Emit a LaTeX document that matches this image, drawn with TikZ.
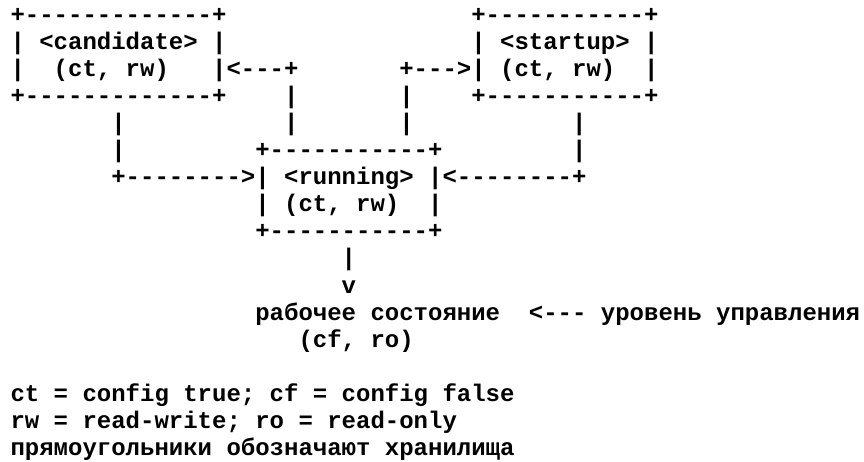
\documentclass[tikz,border=0pt]{standalone}
\usepackage{fontspec}
\setmonofont{Liberation Mono}
\usetikzlibrary{positioning}
\frenchspacing
\tikzset{
  ascii/.style={anchor=base west, inner sep=0pt, outer sep=0pt,
                font=\ttfamily\bfseries\fontsize{18pt}{20pt}\selectfont},
}

\begin{document}
\begin{tikzpicture}
  \fill[white] (0pt,0pt) rectangle (648pt,-345.75pt);
  \useasboundingbox (0pt,0pt) rectangle (648pt,-345.75pt);
  \begin{scope}[shift={(7.9pt,-16.5pt)}, x=10.8pt, y=-20.33pt]
    % <candidate>
    \node[ascii] (cand1) at (0,0) {+-------------+};
    \node[ascii] (cand2) at (0,1) {| <candidate> |};
    \node[ascii] (cand3) at (0,2) {|~~(ct,~rw)~~~|};
    \node[ascii] (cand4) at (0,3) {+-------------+};
    % <startup>
    \node[ascii] (start1) at (32,0) {+-----------+};
    \node[ascii] (start2) at (32,1) {| <startup> |};
    \node[ascii] (start3) at (32,2) {|~(ct,~rw)~~|};
    \node[ascii] (start4) at (32,3) {+-----------+};
    % <running>
    \node[ascii] (run1) at (17,5) {+-----------+};
    \node[ascii] (run2) at (17,6) {| <running> |};
    \node[ascii] (run3) at (17,7) {|~(ct,~rw)~~|};
    \node[ascii] (run4) at (17,8) {+-----------+};
    % running -> candidate / startup
    \node[ascii] (tocand) at (15,2) {<---+};
    \node[ascii] (tostart) at (27,2) {+--->};
    \node[ascii] (upa1) at (19,3) {|};
    \node[ascii] (upa2) at (19,4) {|};
    \node[ascii] (upb1) at (27,3) {|};
    \node[ascii] (upb2) at (27,4) {|};
    % candidate / startup -> running
    \node[ascii] (dna1) at (7,4) {|};
    \node[ascii] (dna2) at (7,5) {|};
    \node[ascii] (fromcand) at (7,6) {+-------->};
    \node[ascii] (dnb1) at (39,4) {|};
    \node[ascii] (dnb2) at (39,5) {|};
    \node[ascii] (fromstart) at (30,6) {<--------+};
    % running -> operational state
    \node[ascii] (down) at (23,9) {|};
    \node[ascii] (tip) at (23,10) {v};
    \node[ascii] (oper) at (17,11) {рабочее состояние~~<--- уровень управления};
    \node[ascii] (opmode) at (20,12) {(cf, ro)};
    % legend
    \node[ascii] (leg1) at (0,14) {ct = config true; cf = config false};
    \node[ascii] (leg2) at (0,15) {rw = read-write; ro = read-only};
    \node[ascii] (leg3) at (0,16) {прямоугольники обозначают хранилища};
  \end{scope}
\end{tikzpicture}
\end{document}
